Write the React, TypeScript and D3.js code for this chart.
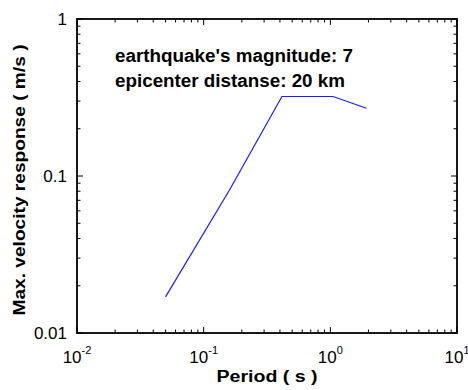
import React from "react";
import * as d3 from "d3";

const periods = [0.05, 0.16, 0.415, 1.05, 1.93];
const velocities = [0.017, 0.0814, 0.321, 0.321, 0.27];
const xExponents = [-2, -1, 0, 1];
const yTicks = [0.01, 0.1, 1];
const yTickLabels = ["0.01", "0.1", "1"];
const annotationLines = ["earthquake's magnitude: 7", "epicenter distanse: 20 km"];
const xTitle = "Period ( s )";
const yTitle = "Max. velocity response ( m/s )";

const W = 468, H = 390;
const L = 77, R = 457, T = 19, B = 333;
const FONT = "'Liberation Sans', Arial, Helvetica, sans-serif";

export default function App() {
  const x = d3.scaleLog().domain([0.01, 10]).range([L, R]);
  const y = d3.scaleLog().domain([0.01, 1]).range([B, T]);
  const line = d3.line<number>().x((_, i) => x(periods[i])).y((d) => y(d));

  const minorX: number[] = [];
  for (let e = -2; e < 1; e++) for (let k = 2; k <= 9; k++) minorX.push(k * Math.pow(10, e));
  const minorY: number[] = [];
  for (let e = -2; e < 0; e++) for (let k = 2; k <= 9; k++) minorY.push(k * Math.pow(10, e));
  const majorX = xExponents.map((e) => Math.pow(10, e));

  const maj = 6, min = 3.5;
  return (
    <svg width={W} height={H} style={{ position: "absolute", left: 0, top: 0, background: "#fff" }}>
      <rect x={0} y={0} width={W} height={H} fill="#fff" />
      <path d={line(velocities) || ""} fill="none" stroke="#1a1aff" strokeWidth={1.2} />
      <g stroke="#000" strokeWidth={1}>
        {minorX.map((v, i) => (
          <g key={"mx" + i}>
            <line x1={x(v)} x2={x(v)} y1={B} y2={B - min} />
            <line x1={x(v)} x2={x(v)} y1={T} y2={T + min} />
          </g>
        ))}
        {majorX.map((v, i) => (
          <g key={"Mx" + i}>
            <line x1={x(v)} x2={x(v)} y1={B} y2={B - maj} />
            <line x1={x(v)} x2={x(v)} y1={T} y2={T + maj} />
          </g>
        ))}
        {minorY.map((v, i) => (
          <g key={"my" + i}>
            <line x1={L} x2={L + min} y1={y(v)} y2={y(v)} />
            <line x1={R} x2={R - min} y1={y(v)} y2={y(v)} />
          </g>
        ))}
        {yTicks.map((v, i) => (
          <g key={"My" + i}>
            <line x1={L} x2={L + maj} y1={y(v)} y2={y(v)} />
            <line x1={R} x2={R - maj} y1={y(v)} y2={y(v)} />
          </g>
        ))}
      </g>
      <rect x={L} y={T} width={R - L} height={B - T} fill="none" stroke="#000" strokeWidth={1.8} />
      <g fontFamily={FONT} fontSize={17} fill="#000">
        {yTicks.map((v, i) => (
          <text key={"yl" + i} x={L - 10} y={y(v) + 6} textAnchor="end">{yTickLabels[i]}</text>
        ))}
        {xExponents.map((e, i) => (
          <text key={"xl" + i} x={x(Math.pow(10, e))} y={363} textAnchor="middle">
            10<tspan fontSize={11} dy={-9}>{e}</tspan>
          </text>
        ))}
      </g>
      <g fontFamily={FONT} fontWeight="bold" fontSize={18} fill="#000">
        <text x={115} y={62} textLength={238} lengthAdjust="spacingAndGlyphs">{annotationLines[0]}</text>
        <text x={115} y={87} textLength={230} lengthAdjust="spacingAndGlyphs">{annotationLines[1]}</text>
      </g>
      <text x={(L + R) / 2} y={382} textAnchor="middle" fontFamily={FONT} fontWeight="bold" fontSize={16} textLength={101} lengthAdjust="spacingAndGlyphs">{xTitle}</text>
      <text transform={`translate(25,${(T + B) / 2 + 4}) rotate(-90)`} textAnchor="middle" fontFamily={FONT} fontWeight="bold" fontSize={16} textLength={271} lengthAdjust="spacingAndGlyphs">{yTitle}</text>
    </svg>
  );
}
